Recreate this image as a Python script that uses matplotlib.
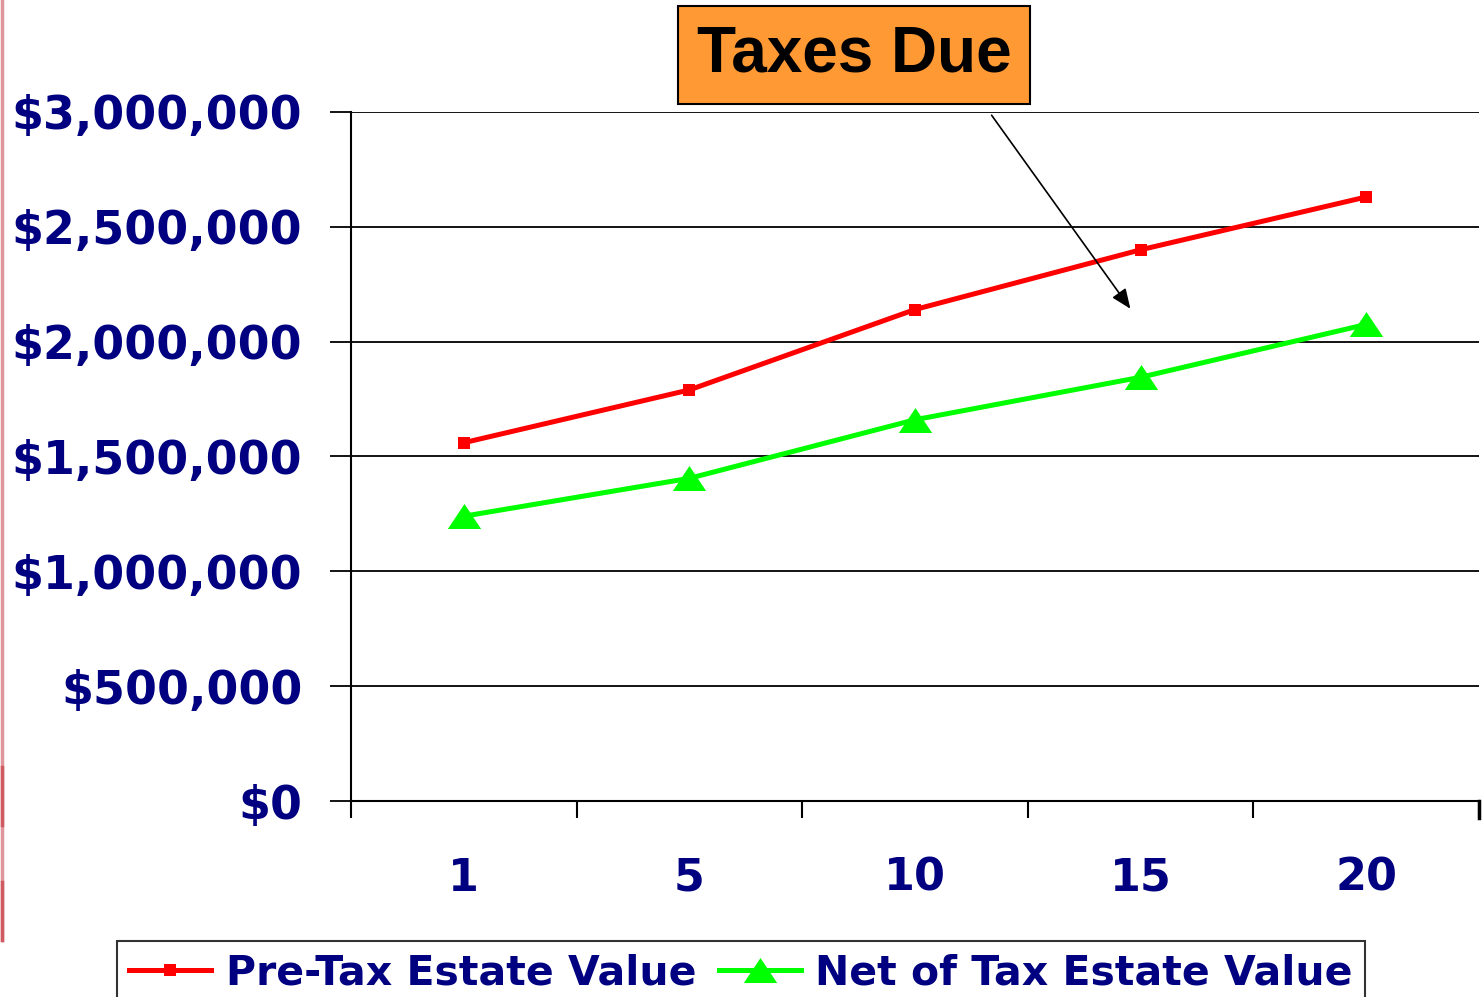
import matplotlib
matplotlib.use("Agg")
import matplotlib.pyplot as plt
from matplotlib.path import Path
from matplotlib.lines import Line2D

years = ["1", "5", "10", "15", "20"]
pre_tax = [1560000, 1790000, 2140000, 2400000, 2630000]
net_of_tax = [1240000, 1405000, 1660000, 1845000, 2075000]
y_ticks = [0, 500000, 1000000, 1500000, 2000000, 2500000, 3000000]
y_labels = ["$0", "$500,000", "$1,000,000", "$1,500,000", "$2,000,000", "$2,500,000", "$3,000,000"]

NAVY = "#000080"
WIDE = ["DejaVu Sans"]
W, H = 1484, 997
fig = plt.figure(figsize=(W / 100, H / 100), dpi=100)
plt.rcParams['font.family'] = ['Liberation Sans', 'DejaVu Sans']

ax = fig.add_axes([351 / W, 1 - 801 / H, (1479 - 351) / W, (801 - 112) / H])
x = list(range(len(years)))

tri = Path([(-1.0, -0.75), (1.0, -0.75), (0.0, 0.75), (-1.0, -0.75)],
           [Path.MOVETO, Path.LINETO, Path.LINETO, Path.CLOSEPOLY])

ax.plot(x, pre_tax, color="#FF0000", lw=3.6, marker="s", markersize=8.5,
        markeredgewidth=0, label="Pre-Tax Estate Value", zorder=3)
ax.plot(x, net_of_tax, color="#00FF00", lw=3.6, marker=tri, markersize=24,
        markeredgewidth=0, label="Net of Tax Estate Value", zorder=3)

ax.set_xlim(-0.5, len(years) - 0.5)
ax.set_ylim(0, 3000000)
ax.set_yticks(y_ticks)
ax.set_yticklabels(y_labels)
ax.set_xticks(x)
ax.set_xticklabels(years)
ax.set_xticks([i - 0.5 for i in range(len(years) + 1)], minor=True)
ax.tick_params(axis="x", which="major", length=0, pad=40, labelsize=32, labelcolor=NAVY)
ax.tick_params(axis="x", which="minor", length=12, width=1.5, direction="out", color="black")
ax.tick_params(axis="y", which="major", length=15, width=1.3, pad=20, labelsize=33, labelcolor=NAVY)
for lab in ax.get_xticklabels() + ax.get_yticklabels():
    lab.set_fontweight("bold")
    lab.set_family(WIDE)

ax.grid(axis="y", color="black", lw=1.3, zorder=1)
ax.set_axisbelow(True)
for s in ["top", "right"]:
    ax.spines[s].set_visible(False)
ax.spines["left"].set_linewidth(1.5)
ax.spines["bottom"].set_linewidth(1.5)

# right end tick
ax.plot([1, 1], [0, -0.025], transform=ax.transAxes, color="black", lw=2.5, clip_on=False)

# Taxes Due annotation
fig.text(854 / W, 1 - 55 / H, "Taxes Due", ha="center", va="center", fontsize=46,
         fontweight="bold", color="black",
         bbox=dict(boxstyle="square,pad=0.3", fc="#FF9933", ec="black", lw=1.5))
ax.annotate("", xy=(1132 / W, 1 - 311 / H), xytext=(990 / W, 1 - 113 / H),
            xycoords="figure fraction", textcoords="figure fraction",
            arrowprops=dict(arrowstyle="-|>,head_length=1.2,head_width=0.5", color="black", lw=1.2))

# Legend
leg = fig.legend(loc="upper left", bbox_to_anchor=(117 / W, 1 - 941 / H), ncol=2,
                 frameon=True, prop={"weight": "bold", "size": 29.5, "family": WIDE},
                 handlelength=2.0, handletextpad=0.35, columnspacing=0.55,
                 borderpad=0.3, borderaxespad=0, fancybox=False, edgecolor="black")
leg.get_frame().set_linewidth(1.5)
for t in leg.get_texts():
    t.set_color(NAVY)

# left decorative strip
fig.add_artist(Line2D([1.5 / W, 1.5 / W], [1 - 940 / H, 1], transform=fig.transFigure,
                      color="#E0959A", lw=2.5))
for y0, y1 in [(767, 825), (882, 940)]:
    fig.add_artist(Line2D([1.5 / W, 1.5 / W], [1 - y1 / H, 1 - y0 / H], transform=fig.transFigure,
                          color="#D05A62", lw=2.5))

fig.savefig("out.png", dpi=100)
